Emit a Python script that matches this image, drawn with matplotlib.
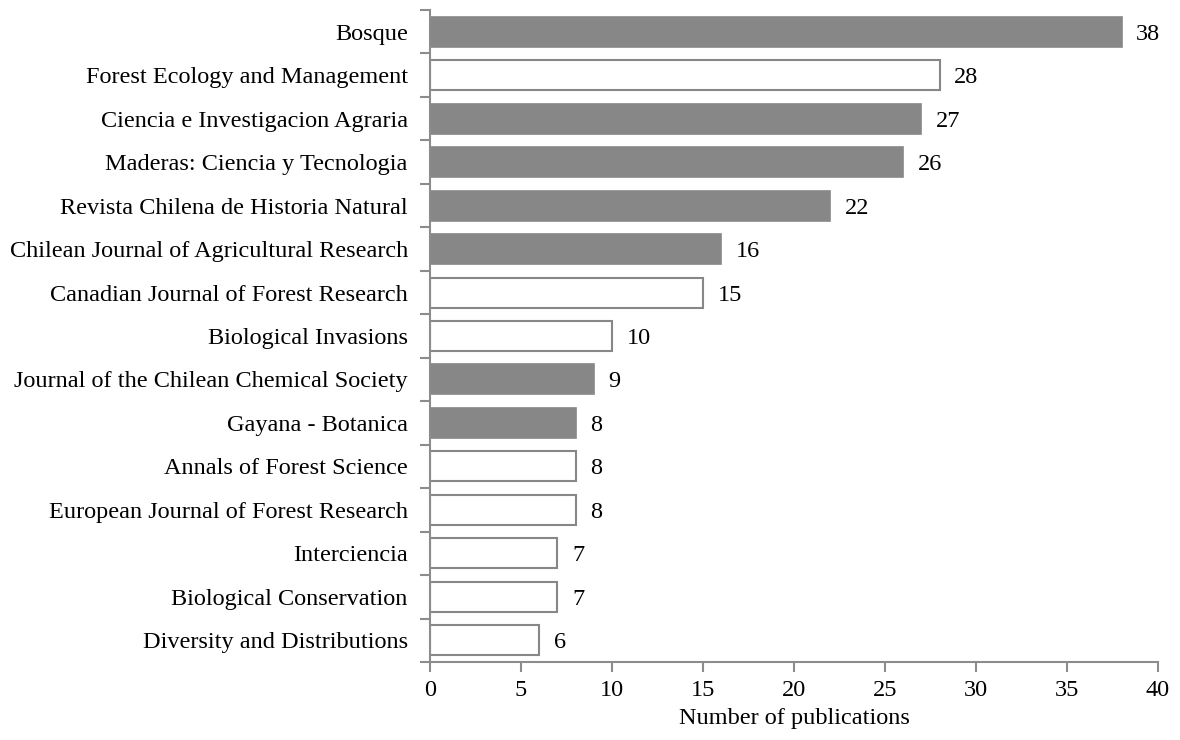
#!/usr/bin/env python3
import numpy as np
import matplotlib
matplotlib.use("Agg")
import matplotlib.pyplot as plt
from matplotlib.ticker import FixedLocator, NullFormatter

# journal names, top to bottom
journals = [
	"Bosque",
	"Forest Ecology and Management",
	"Ciencia e Investigacion Agraria",
	"Maderas: Ciencia y Tecnologia",
	"Revista Chilena de Historia Natural",
	"Chilean Journal of Agricultural Research",
	"Canadian Journal of Forest Research",
	"Biological Invasions",
	"Journal of the Chilean Chemical Society",
	"Gayana - Botanica",
	"Annals of Forest Science",
	"European Journal of Forest Research",
	"Interciencia",
	"Biological Conservation",
	"Diversity and Distributions",
]
counts = [38, 28, 27, 26, 22, 16, 15, 10, 9, 8, 8, 8, 7, 7, 6]
# True = filled grey bar, False = white bar
filled = [True, False, True, True, True, True, False, False, True, True,
	False, False, False, False, False]
x_ticks = [0, 5, 10, 15, 20, 25, 30, 35, 40]

plt.rcParams['font.family'] = ['Liberation Serif', 'DejaVu Serif']
fs = 17.5
grey = '#878787'
axis_grey = '#8c8c8c'

fig = plt.figure(figsize=(11.8, 7.4), dpi=100)
ax = fig.add_axes([430/1180, 1-662/740, 728/1180, 652/740])

n = len(journals)
ypos = np.arange(n)[::-1]
for y, c, f in zip(ypos, counts, filled):
	if f:
		ax.barh(y, c, height=0.69, color=grey, edgecolor=grey, linewidth=1.2)
	else:
		ax.barh(y, c, height=0.69, color='white', edgecolor=grey, linewidth=1.5)
	ax.text(c + 0.8, y, str(c), va='center_baseline', ha='left', fontsize=fs)

ax.set_xlim(0, 40)
ax.set_ylim(-0.5, n - 0.5)
ax.set_xticks(x_ticks)
ax.set_xticklabels([str(t) for t in x_ticks], fontsize=fs)

# category labels between ticks at boundaries
ax.set_yticks(ypos)
ax.set_yticklabels(journals, fontsize=fs)
ax.tick_params(axis='y', which='major', length=0, pad=16)
ax.yaxis.set_minor_locator(FixedLocator(np.arange(-0.5, n, 1.0)))
ax.yaxis.set_minor_formatter(NullFormatter())
ax.tick_params(axis='y', which='minor', length=7, width=1.5, color=axis_grey, direction='out')
ax.tick_params(axis='x', length=7, width=1.5, color=axis_grey, direction='out', pad=6)

for s in ['top', 'right']:
	ax.spines[s].set_visible(False)
for s in ['left', 'bottom']:
	ax.spines[s].set_color(axis_grey)
	ax.spines[s].set_linewidth(1.5)

ax.set_xlabel("Number of publications", fontsize=fs, labelpad=5)

fig.savefig("out.png", dpi=100)
